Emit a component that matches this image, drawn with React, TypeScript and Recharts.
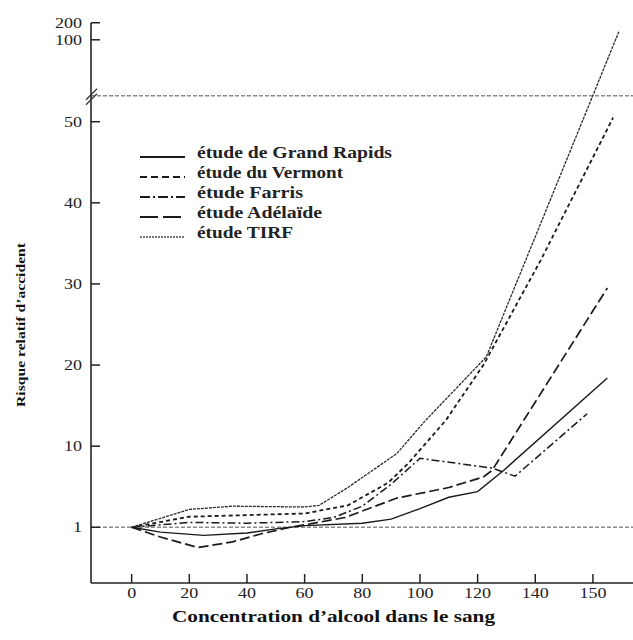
import { LineChart, Line, XAxis, YAxis, ReferenceLine, ReferenceDot } from 'recharts';

// positions on the axes as they read on the picture ("1" sits at 0, "150" at 160)
const xTickValues = [0, 20, 40, 60, 80, 100, 120, 140, 160];
const xTickLabels = ['0', '20', '40', '60', '80', '100', '120', '140', '150'];
const yTickValues = [0, 10, 20, 30, 40, 50, 60.1, 62.2];
const yTickLabels = ['1', '10', '20', '30', '40', '50', '100', '200'];
const axisBreak = 53.2;

const grandRapidsX = [0, 10, 25, 40, 50, 60, 80, 90, 100, 110, 120, 129, 165];
const grandRapidsY = [0, -0.6, -1, -0.7, -0.2, 0.2, 0.5, 1, 2.3, 3.7, 4.4, 7, 18.4];

const vermontX = [0, 20, 40, 60, 75, 89, 96, 109, 122, 142, 167];
const vermontY = [0, 1.3, 1.5, 1.7, 2.7, 5.5, 7.9, 13.2, 20, 33, 50.5];

const farrisX = [0, 20, 40, 60, 70, 80, 90, 100, 125, 133, 158];
const farrisY = [0, 0.6, 0.5, 0.7, 1.2, 2.6, 5.3, 8.5, 7.3, 6.3, 14];

const adelaideX = [0, 10, 23, 35, 45, 55, 60, 74, 92, 110, 122, 125, 165];
const adelaideY = [0, -1.2, -2.5, -1.8, -0.8, 0, 0.3, 1.2, 3.6, 4.9, 6.2, 7, 29.5];

const tirfX = [0, 20, 35, 60, 65, 75, 92, 102, 123, 169];
const tirfY = [0, 2.2, 2.6, 2.5, 2.7, 4.9, 9.1, 13.2, 21, 61.1];

const zip = (xs: number[], ys: number[]) => xs.map((x, i) => ({ x, y: ys[i] }));

const series = [
  { name: 'étude de Grand Rapids', data: zip(grandRapidsX, grandRapidsY), dash: undefined, width: 1.4, color: '#1a1a1a', legendDash: undefined, textLen: 195 },
  { name: 'étude du Vermont', data: zip(vermontX, vermontY), dash: '4 3', width: 1.8, color: '#1a1a1a', legendDash: '7 4', textLen: 146 },
  { name: 'étude Farris', data: zip(farrisX, farrisY), dash: '8 3 2 3', width: 1.5, color: '#1a1a1a', legendDash: '10 3 2 3', textLen: 106 },
  { name: 'étude Adélaïde', data: zip(adelaideX, adelaideY), dash: '10 4', width: 1.7, color: '#1a1a1a', legendDash: '18 5', textLen: 125 },
  { name: 'étude TIRF', data: zip(tirfX, tirfY), dash: '3 1', width: 1.3, color: '#2a2a2a', legendDash: '2 1', textLen: 96 },
];

const FONT = '"Liberation Serif", "Times New Roman", serif';

const YTick = (props: any) => {
  const { x, y, payload } = props;
  const label = yTickLabels[yTickValues.indexOf(payload.value)];
  return (
    <g>
      <line x1={x} x2={x + 9} y1={y} y2={y} stroke="#222" strokeWidth={1.5} />
      <text x={x - 9} y={y} dy={5} textAnchor="end" fontFamily={FONT} fontSize={14} fill="#222"
        textLength={label.length * 9} lengthAdjust="spacingAndGlyphs">{label}</text>
    </g>
  );
};

const XTick = (props: any) => {
  const { x, y, payload } = props;
  const label = xTickLabels[xTickValues.indexOf(payload.value)];
  return (
    <g>
      <line x1={x} x2={x} y1={y} y2={y - 9} stroke="#222" strokeWidth={1.5} />
      <text x={x} y={y + 15} textAnchor="middle" fontFamily={FONT} fontSize={14} fill="#222"
        textLength={label.length * 9} lengthAdjust="spacingAndGlyphs">{label}</text>
    </g>
  );
};

const BreakMark = (props: any) => {
  const { cx, cy } = props;
  return (
    <g>
      <line x1={cx - 5} y1={cy + 4} x2={cx + 6} y2={cy - 7} stroke="#333" strokeWidth={1.3} />
      <line x1={cx - 5} y1={cy + 9} x2={cx + 6} y2={cy - 2} stroke="#333" strokeWidth={1.3} />
    </g>
  );
};

export default function App() {
  return (
    <div style={{ position: 'absolute', left: 0, top: 0, width: 633, height: 640, background: '#fff' }}>
      <LineChart width={633} height={640} margin={{ top: 23, right: 0, bottom: 0, left: 0 }}>
        <XAxis
          dataKey="x"
          type="number"
          domain={[-14.1, 173.9]}
          allowDataOverflow
          ticks={xTickValues}
          interval={0}
          tick={<XTick />}
          tickLine={false}
          tickSize={0}
          tickMargin={0}
          height={57}
          axisLine={{ stroke: '#222', strokeWidth: 1.6 }}
        />
        <YAxis
          type="number"
          domain={[-6.87, 62.17]}
          allowDataOverflow
          ticks={yTickValues}
          interval={0}
          tick={<YTick />}
          tickLine={false}
          tickSize={0}
          tickMargin={0}
          width={91}
          axisLine={{ stroke: '#222', strokeWidth: 1.6 }}
        />
        <ReferenceLine y={0} stroke="#8a8a8a" strokeWidth={1.6} strokeDasharray="4 2" />
        <ReferenceLine y={axisBreak} stroke="#8a8a8a" strokeWidth={1.6} strokeDasharray="4 2" />
        <ReferenceDot x={-14.1} y={axisBreak} r={0} ifOverflow="visible" shape={<BreakMark />} />
        {series.map((s) => (
          <Line
            key={s.name}
            data={s.data}
            dataKey="y"
            type="linear"
            stroke={s.color}
            strokeWidth={s.width}
            strokeDasharray={s.dash}
            dot={false}
            activeDot={false}
            isAnimationActive={false}
          />
        ))}
      </LineChart>

      <svg width={633} height={640} style={{ position: 'absolute', left: 0, top: 0, pointerEvents: 'none' }}>
        {/* legend */}
        {series.map((s, i) => (
          <g key={s.name}>
            <line x1={140} x2={185} y1={157 + i * 20} y2={157 + i * 20}
              stroke={i === 4 ? '#777' : '#1a1a1a'} strokeWidth={i === 4 ? 2.2 : 2}
              strokeDasharray={s.legendDash} />
            <text x={197} y={158 + i * 20} fontFamily={FONT} fontSize={16} fontWeight="bold" fill="#222"
              textLength={s.textLen} lengthAdjust="spacingAndGlyphs">{s.name}</text>
          </g>
        ))}
        {/* axis titles */}
        <text x={333.5} y={622} textAnchor="middle" fontFamily={FONT} fontSize={16} fontWeight="bold" fill="#111"
          textLength={323} lengthAdjust="spacingAndGlyphs">Concentration d’alcool dans le sang</text>
        <text transform="translate(25 325) rotate(-90)" textAnchor="middle" fontFamily={FONT} fontSize={12}
          fontWeight="bold" fill="#111" textLength={164} lengthAdjust="spacingAndGlyphs">Risque relatif d’accident</text>
      </svg>
    </div>
  );
}
